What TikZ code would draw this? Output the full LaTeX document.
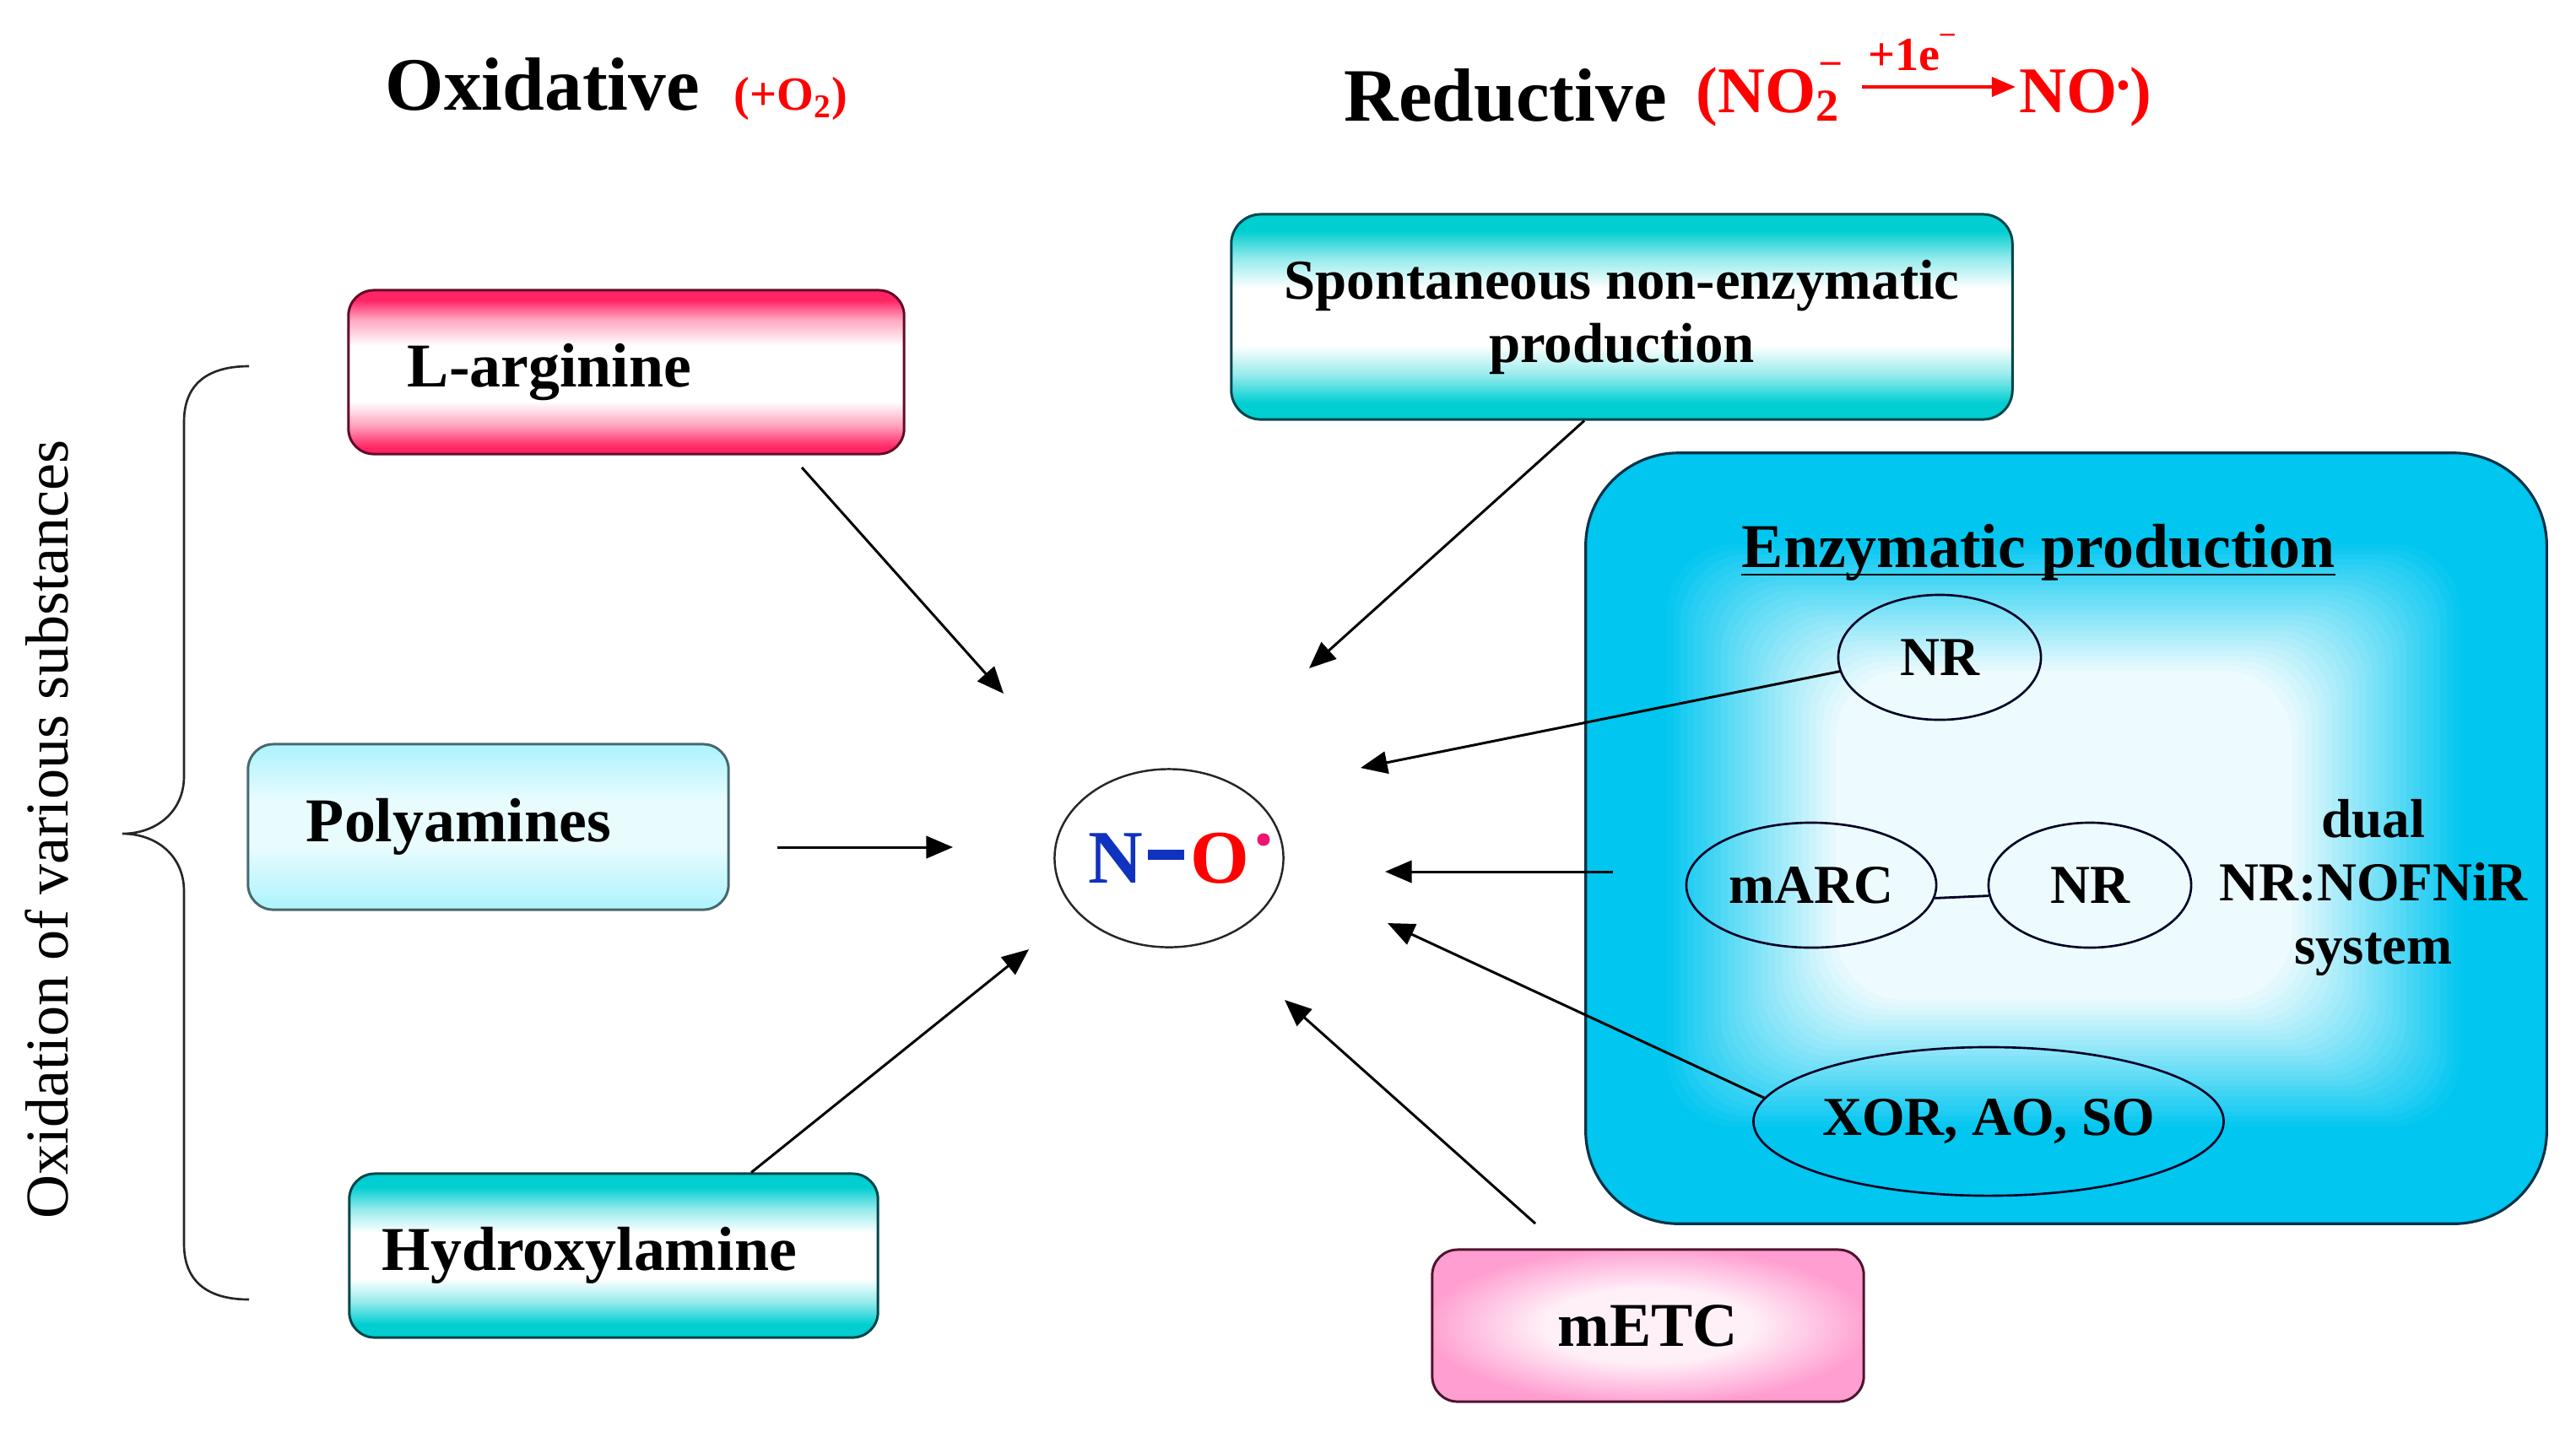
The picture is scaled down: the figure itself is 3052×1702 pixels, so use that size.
\documentclass[tikz,border=0pt]{standalone}
\usepackage{fontspec}
\setmainfont{Liberation Serif}
\usetikzlibrary{shapes.geometric,arrows.meta}

\definecolor{pk}{RGB}{255,36,100}
\definecolor{pkdark}{RGB}{100,10,40}
\definecolor{teal1}{RGB}{0,206,209}
\definecolor{tealdark}{RGB}{0,70,75}
\definecolor{lcyan}{RGB}{178,244,252}
\definecolor{lcyandark}{RGB}{70,105,110}
\definecolor{mpk}{RGB}{255,158,208}
\definecolor{mpkdark}{RGB}{80,20,45}
\definecolor{enz}{RGB}{0,198,240}
\definecolor{enzdark}{RGB}{0,50,70}
\definecolor{nblue}{RGB}{16,50,190}
\definecolor{dotpink}{RGB}{240,20,110}
\colorlet{pkmid}{pk!40!white}
\colorlet{tealmid}{teal1!40!white}
\colorlet{lcylight}{lcyan!30!white}
\colorlet{mpklight}{mpk!15!white}

\pgfdeclareverticalshading{pinkband}{100bp}{color(0bp)=(pk); color(27bp)=(pk); color(34bp)=(pkmid); color(41bp)=(white); color(58bp)=(white); color(66bp)=(pkmid); color(72bp)=(pk); color(100bp)=(pk)}
\pgfdeclareverticalshading{tealband}{100bp}{color(0bp)=(teal1); color(29bp)=(teal1); color(36bp)=(tealmid); color(43bp)=(white); color(57bp)=(white); color(64bp)=(tealmid); color(71bp)=(teal1); color(100bp)=(teal1)}
\pgfdeclareverticalshading{cyanband}{100bp}{color(0bp)=(lcyan); color(27bp)=(lcyan); color(44bp)=(lcylight); color(58bp)=(lcylight); color(73bp)=(lcyan); color(100bp)=(lcyan)}
\pgfdeclareradialshading{pinkglow}{\pgfpoint{0bp}{0bp}}{color(0bp)=(mpklight); color(12bp)=(mpklight); color(26bp)=(mpk); color(50bp)=(mpk)}

\newcommand{\supm}{\raisebox{0.6em}{\scalebox{0.6}{–}}}
\newcommand{\rdot}{\raisebox{0.22em}{\scalebox{0.55}{•}}}

\tikzset{
  sbox/.style={rectangle, rounded corners=0.3cm, line width=0.85pt, inner ysep=0pt},
  boxfont/.style={font=\fontsize{21pt}{25pt}\selectfont\bfseries},
  title/.style={anchor=base west, inner sep=0pt, font=\fontsize{25.4pt}{30pt}\selectfont\bfseries},
  redtxt/.style={anchor=base west, inner sep=0pt, text=red, font=\fontsize{#1}{26pt}\selectfont\bfseries},
  enzell/.style={ellipse, draw=black!85!blue, line width=0.75pt, inner sep=0pt, font=\fontsize{18.5pt}{22pt}\selectfont\bfseries},
  arr/.style={line width=0.85pt, -{Triangle[length=9pt,width=7.5pt]}},
  redarr/.style={line width=1.2pt, red, -{Triangle[length=8pt,width=6.5pt]}}
}

\begin{document}
\begin{tikzpicture}[x=0.01cm,y=-0.01cm]
\useasboundingbox (0,0) rectangle (3052,1702);
\fill[white] (0,0) rectangle (3052,1702);

% headings
\node[title] (oxt) at (456,130) {Oxidative};
\node[redtxt=16pt] (oxo) at (869,130) {(+O\textsubscript{2})};
\node[title] (redt) at (1592,143) {Reductive};
\node[redtxt=22pt] (no2) at (2009,133) {(NO\textsubscript{2}\llap{\supm}};
\node[redtxt=16pt] (pe) at (2213,83) {+1e\supm};
\node[redtxt=22pt] (nor) at (2392,133) {NO\rdot)};
\coordinate (ra1) at (2206,103);
\coordinate (ra2) at (2388,103);
\draw[redarr] (ra1) -- (ra2);

% vertical label and brace
\node[rotate=90, anchor=base, inner sep=0pt, font=\rmfamily\fontsize{20.5pt}{24pt}\selectfont] (vt) at (80,983) {Oxidation of various substances};
\draw[line width=0.75pt, black!85] (295,434) .. controls (250,434) and (218,452) .. (218,500) -- (218,920)
  .. controls (218,962) and (185,988) .. (145,988) .. controls (185,988) and (218,1014) .. (218,1056)
  -- (218,1474) .. controls (218,1522) and (250,1540) .. (295,1540);

% left boxes
\node[sbox, shade, shading=pinkband, draw=pkdark, minimum height=1.94cm, text width=5.18cm, inner xsep=0.7cm, align=left, boxfont] (larg) at (742,441) {L-arginine};
\node[sbox, shade, shading=cyanband, draw=lcyandark, minimum height=1.96cm, text width=4.31cm, inner xsep=0.69cm, align=left, boxfont] (poly) at (578.5,980) {Polyamines};
\node[sbox, shade, shading=tealband, draw=tealdark, minimum height=1.94cm, text width=5.48cm, inner xsep=0.39cm, align=left, boxfont] (hydro) at (727,1488) {Hydroxylamine};

% right boxes
\node[sbox, shade, shading=pinkglow, draw=mpkdark, minimum height=1.80cm, minimum width=5.11cm, boxfont] (metc) at (1952.5,1571) {mETC};
\node[sbox, rounded corners=0.35cm, shade, shading=tealband, draw=tealdark, minimum height=2.43cm, minimum width=9.25cm, align=center, font=\fontsize{19pt}{21.3pt}\selectfont\bfseries] (spont) at (1921.5,375.5) {Spontaneous non-enzymatic\\production};

% enzymatic box
\node[rectangle, rounded corners=1.1cm, fill=enz, draw=enzdark, line width=0.9pt, minimum width=11.38cm, minimum height=9.13cm] (enz) at (2448,993.5) {};
\foreach \i in {1,...,34}{
  \pgfmathsetmacro{\p}{max(7,100-3.6*\i)}
  \fill[enz!\p!white, rounded corners=0.8cm] ({2445-478+8*\i},{990-351+6*\i}) rectangle ({2445+478-8*\i},{990+351-6*\i});
}
\node[anchor=base, inner sep=0pt, font=\fontsize{21pt}{25pt}\selectfont\bfseries] (enzt) at (2415,672) {Enzymatic production};
\draw[line width=0.75pt] ([yshift=-0.09cm]enzt.base west) -- ([yshift=-0.09cm]enzt.base east);

\node[enzell, minimum width=2.40cm, minimum height=1.48cm] (nr1) at (2298,779) {NR};
\node[enzell, minimum width=2.96cm, minimum height=1.48cm] (marc) at (2146,1049) {mARC};
\node[enzell, minimum width=2.40cm, minimum height=1.48cm] (nr2) at (2476,1049) {NR};
\node[enzell, minimum width=5.41cm, minimum height=1.76cm] (xor) at (2356,1329) {XOR, AO, SO};
\draw[line width=0.8pt, black!85!blue] (marc.354.5) -- (nr2.186.7);
\node[inner sep=0pt, align=center, font=\fontsize{18.5pt}{21.3pt}\selectfont\bfseries] (dual) at (2812,1052) {dual\\NR:NOFNiR\\system};

% central NO
\node[ellipse, draw=black!85, line width=0.7pt, fill=white, minimum width=2.71cm, minimum height=2.11cm, inner sep=0pt, font=\fontsize{25.5pt}{30pt}\selectfont\bfseries] (no) at (1385,1017)
  {\textcolor{nblue}{N}\hspace{1.7pt}\textcolor{nblue}{\rule[7.7pt]{12pt}{3.4pt}}\hspace{2.3pt}\textcolor{red}{O}};
\fill[dotpink] (1497,995) circle[radius=0.075cm];

% arrows
\coordinate (s1) at (950,554);   \coordinate (t1) at (1189,822);
\coordinate (t2) at (1551,792);
\coordinate (s3) at (921,1004);  \coordinate (t3) at (1129,1004);
\coordinate (t4) at (1219,1125);
\coordinate (s5) at (1819,1450); \coordinate (t5) at (1522,1185);
\coordinate (t6) at (1612,910);
\coordinate (s7) at (1911,1033); \coordinate (t7) at (1641,1033);
\coordinate (t8) at (1644,1094);

\draw[arr] (s1) -- (t1);
\draw[arr] ([xshift=-0.445cm]spont.south) -- (t2);
\draw[arr] (s3) -- (t3);
\draw[arr] ([xshift=1.63cm]hydro.north) -- (t4);
\draw[arr] (s5) -- (t5);
\draw[arr] (nr1.188) -- (t6);
\draw[arr] (s7) -- (t7);
\draw[arr] (xor.174) -- (t8);
\end{tikzpicture}
\end{document}
